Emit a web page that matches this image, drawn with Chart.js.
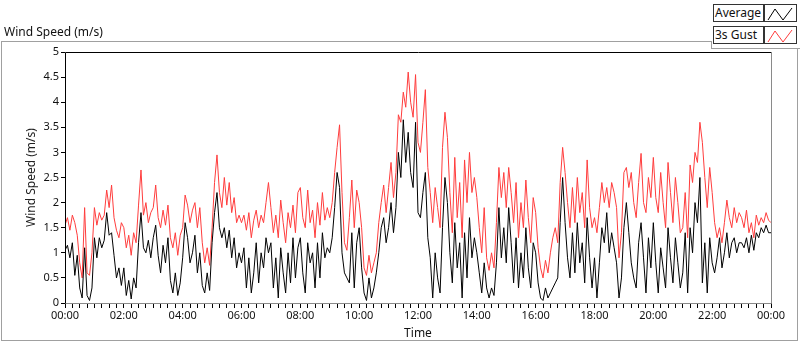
<!DOCTYPE html>
<html>
<head>
<meta charset="utf-8">
<script src="https://cdn.jsdelivr.net/npm/chart.js@4.4.1/dist/chart.umd.min.js"></script>
<style>
  body { margin: 0; background: #fff; font-family: "Noto Sans", sans-serif; }
  #wrap { position: relative; width: 800px; height: 342px; overflow: hidden; }
  #frame { position: absolute; left: 1px; top: 41px; width: 795px; height: 298px; border: 1px solid #a0a0a0; }
  #chart { position: absolute; left: 0; top: 0; }
  #title { position: absolute; left: 4px; top: 23px; font-size: 12px; color: #111; }
  #corner { position: absolute; left: 711px; top: 0; width: 89px; height: 48px; background: #fff;
            border-bottom: 1px solid #a0a0a0; }
  #corner .edge { position: absolute; left: 0; top: 41px; width: 1px; height: 7px; background: #a0a0a0; }
  .name { position: absolute; left: 2px; width: 48px; height: 16px; border: 1px solid #333; background: #fff;
          font-size: 12px; line-height: 16px; padding-left: 1px; box-sizing: content-box; color: #111; }
  .glyph { position: absolute; left: 53px; width: 31px; height: 16px; border: 1px solid #333; background: #fff; }
</style>
</head>
<body>
<div id="wrap">
  <div id="frame"></div>
  <canvas id="chart" width="800" height="342"></canvas>
  <div id="title">Wind Speed (m/s)</div>
  <div id="corner">
    <div class="edge"></div>
    <div class="name" style="top:4px">Average</div>
    <div class="glyph" style="top:4px"><svg width="31" height="16"><polyline points="3,14 10,3 18,14 27,2" fill="none" stroke="#000" stroke-width="1"/></svg></div>
    <div class="name" style="top:26px">3s Gust</div>
    <div class="glyph" style="top:26px"><svg width="31" height="16"><polyline points="3,14 10,3 18,14 27,2" fill="none" stroke="#ff3c3c" stroke-width="1"/></svg></div>
  </div>
</div>
<script>
// 5 minute samples, 00:00 .. 24:00 (one row per hour)
const avg = [
  1.05, 1.15, 0.9, 1.2, 0.55, 0.95, 0.3, 0.1, 1.1, 0.15, 0.05, 0.3,
  1.3, 0.9, 1.3, 1.1, 1.25, 1.8, 1.35, 1.4, 0.95, 0.5, 0.7, 0.35,
  0.7, 0.15, 0.45, 0.08, 0.5, 0.3, 1.2, 1.8, 1.1, 1.0, 1.25, 0.9,
  1.3, 1.55, 0.95, 0.6, 1.15, 0.8, 1.3, 0.45, 0.2, 0.6, 0.15, 0.4,
  0.9, 1.6, 1.3, 0.8, 1.0, 1.35, 0.6, 1.0, 0.35, 0.2, 0.6, 0.25,
  1.2, 1.8, 2.2, 1.5, 1.3, 1.5, 1.1, 1.45, 0.9, 1.3, 0.7, 1.0,
  0.8, 1.1, 0.3, 0.9, 0.2, 0.6, 1.2, 0.4, 1.0, 0.7, 1.3, 1.0,
  1.2, 0.3, 0.9, 0.1, 1.1, 0.6, 0.2, 1.0, 0.4, 1.3, 0.5, 1.1,
  1.3, 0.6, 0.2, 1.2, 0.8, 1.0, 0.3, 1.2, 0.5, 1.4, 0.9, 1.1,
  1.0, 1.3, 1.9, 2.6, 2.3, 1.0, 0.6, 0.5, 0.4, 1.4, 0.3, 1.2,
  1.5, 0.7, 0.2, 0.05, 0.5, 0.1, 0.3, 0.6, 1.0, 1.5, 1.7, 1.2,
  1.5, 2.0, 1.4, 1.9, 3.0, 2.5, 3.65, 2.8, 3.4, 2.6, 2.3, 3.6,
  1.8, 1.7, 2.2, 2.6, 1.3, 0.9, 0.1, 1.0, 0.5, 0.2, 1.5, 2.5,
  2.0, 1.0, 0.4, 1.6, 0.7, 1.2, 0.1, 1.4, 0.5, 1.7, 0.9, 1.3,
  1.0, 0.6, 0.2, 0.8, 0.3, 0.1, 0.3, 0.15, 0.8, 1.9, 0.9, 1.5,
  0.8, 1.9, 1.2, 0.4, 1.3, 0.3, 1.0, 0.5, 1.5, 0.7, 0.3, 1.2,
  1.0, 0.4, 0.1, 0.05, 0.3, 0.1, 0.2, 0.3, 0.4, 0.5, 1.6, 2.5,
  1.6, 0.9, 0.5, 1.4, 0.6, 1.6, 0.8, 1.2, 0.4, 1.7, 0.9, 0.3,
  0.9, 0.1, 0.8, 1.5, 1.2, 1.8, 1.0, 1.4, 1.1, 0.8, 0.1, 0.5,
  1.5, 2.0, 1.4, 0.8, 0.5, 0.3, 1.2, 1.6, 0.9, 0.2, 1.3, 0.7,
  1.6, 0.8, 0.2, 1.1, 0.7, 0.3, 1.5, 0.9, 0.4, 1.3, 0.8, 0.3,
  0.6, 1.4, 0.2, 1.5, 1.0, 2.0, 1.6, 2.5, 0.4, 1.2, 0.2, 1.3,
  0.8, 0.6, 0.9, 1.3, 0.7, 1.0, 1.4, 0.9, 1.2, 1.3, 1.0, 1.2,
  1.2, 1.1, 1.3, 1.0, 1.35, 1.05, 1.4, 1.3, 1.5, 1.4, 1.55, 1.4,
  1.4
];

const gust = [
  1.55, 1.7, 1.45, 1.75, 1.6, 1.35, 0.8, 0.5, 1.9, 0.6, 0.55, 1.0,
  1.9, 1.55, 1.8, 1.65, 1.75, 2.25, 1.9, 2.35, 1.7, 1.45, 1.3, 1.6,
  1.5, 1.1, 1.35, 0.95, 1.4, 1.2, 1.95, 2.65, 1.75, 2.0, 1.6, 1.8,
  1.9, 2.35, 1.7, 1.5, 1.85, 1.55, 1.95, 1.3, 1.1, 1.4, 0.95, 1.35,
  1.5, 2.15, 1.95, 1.6, 1.85, 2.0, 1.5, 1.9, 1.2, 0.8, 1.1, 0.75,
  1.5, 2.4, 2.95, 2.2, 1.9, 2.5, 1.95, 2.4, 1.8, 2.1, 1.6, 1.75,
  1.6, 1.75, 1.45, 1.8, 1.3, 1.65, 1.85, 1.5, 1.75, 1.6, 2.0, 2.4,
  1.9, 1.4, 1.75, 1.3, 2.05, 1.6, 1.2, 1.8, 1.5, 1.95, 1.4, 2.2,
  2.3, 1.7, 1.5, 2.25, 1.6, 1.85, 1.3, 2.0, 1.55, 2.2, 1.65, 1.9,
  1.7, 2.0, 2.6, 3.1, 3.55, 2.2, 1.2, 1.05, 1.7, 2.45, 1.5, 2.25,
  2.0, 1.5, 0.7, 0.55, 0.95, 0.6, 0.8, 1.0, 1.6, 2.0, 2.35, 1.8,
  2.3, 2.8, 2.1, 2.6, 3.75, 3.6, 4.2, 3.9, 4.6, 4.0, 3.7, 4.55,
  3.2, 3.0, 3.6, 4.25, 2.7, 2.2, 1.6, 2.3, 1.9, 1.5, 3.1, 3.8,
  3.3, 2.2, 1.4, 2.9, 1.7, 2.4, 1.3, 2.85, 2.0, 3.0, 2.2, 2.5,
  2.1, 1.5, 1.0, 1.9, 0.9, 0.65, 1.0, 0.7, 1.6, 2.7, 2.1, 2.6,
  1.9, 2.7, 2.2, 1.6, 2.4, 1.3, 2.0, 1.5, 2.45, 1.7, 1.2, 2.1,
  1.8, 1.1, 0.7, 0.5, 0.85, 0.6, 1.0, 1.3, 1.5, 1.2, 2.4, 3.1,
  2.6, 2.0, 1.5, 2.3, 1.6, 2.5, 1.8, 2.2, 1.5, 2.85, 1.9, 1.5,
  1.7, 1.4, 1.9, 2.4, 2.0, 2.3, 1.9, 2.4, 2.2, 1.9, 0.9, 1.4,
  2.6, 2.7, 2.3, 2.6, 2.0, 1.7, 2.4, 2.98, 2.0, 1.8, 2.5, 2.1,
  2.9, 2.1, 1.8, 2.6, 2.0, 1.5, 2.8, 2.2, 1.6, 2.5, 2.0, 1.4,
  1.5, 2.2, 1.3, 2.75, 2.4, 3.0, 2.8, 3.6, 3.2, 2.5, 1.9, 2.7,
  2.2, 1.6, 1.3, 1.5, 1.2, 1.6, 2.05, 1.7, 1.5, 1.9, 1.6, 1.8,
  1.7, 1.5, 1.85, 1.4, 1.6, 1.3, 1.75, 1.55, 1.7, 1.6, 1.8, 1.65,
  1.6
];

// minutes since midnight for each sample
const times = avg.map((v, i) => i * 5);

const fmtTime = m => {
  const h = Math.floor(m / 60) % 24;
  const mm = m % 60;
  return String(h).padStart(2, '0') + ':' + String(mm).padStart(2, '0');
};

// black frame on top/left, grey on right/bottom like the original
const plotFrame = {
  id: 'plotFrame',
  afterDraw(chart) {
    const { ctx, chartArea: a } = chart;
    const l = Math.round(a.left) + 0.5, r = Math.round(a.right) + 0.5;
    const t = Math.round(a.top) + 0.5, b = Math.round(a.bottom) + 0.5;
    ctx.save();
    ctx.lineWidth = 1;
    ctx.strokeStyle = '#000';
    ctx.beginPath();
    ctx.moveTo(l, b); ctx.lineTo(l, t); ctx.lineTo(r, t);
    ctx.stroke();
    ctx.strokeStyle = '#8a8a8a';
    ctx.beginPath();
    ctx.moveTo(r, t); ctx.lineTo(r, b); ctx.lineTo(l, b);
    ctx.stroke();
    ctx.restore();
  }
};

const tickFont = { family: '"Noto Sans", sans-serif', size: 11 };
const titleFont = { family: '"Noto Sans", sans-serif', size: 12 };

new Chart(document.getElementById('chart'), {
  type: 'line',
  data: {
    datasets: [
      {
        label: 'Average',
        data: times.map((t, i) => ({ x: t, y: avg[i] })),
        borderColor: '#000',
        borderWidth: 1,
        pointRadius: 0
      },
      {
        label: '3s Gust',
        data: times.map((t, i) => ({ x: t, y: gust[i] })),
        borderColor: '#ff3c3c',
        borderWidth: 1,
        pointRadius: 0
      }
    ]
  },
  options: {
    responsive: false,
    animation: false,
    devicePixelRatio: 1,
    layout: { padding: { top: 52, right: 29, left: 0, bottom: 0 } },
    plugins: { legend: { display: false }, tooltip: { enabled: false } },
    scales: {
      x: {
        type: 'linear',
        min: 0,
        max: 1440,
        afterFit(s) { s.height = 39; },
        border: { display: false },
        grid: { drawOnChartArea: false, tickLength: 5, color: '#000' },
        ticks: {
          stepSize: 15,
          autoSkip: false,
          maxRotation: 0,
          padding: 1,
          color: '#111',
          font: tickFont,
          callback: v => (v % 120 === 0 ? fmtTime(v) : '')
        },
        title: { display: true, text: 'Time', color: '#111', font: titleFont, padding: { top: 0, bottom: 1 } }
      },
      y: {
        min: 0,
        max: 5,
        afterFit(s) { s.width = 65; },
        border: { display: false },
        grid: { drawOnChartArea: false, tickLength: 4, color: '#000' },
        ticks: {
          stepSize: 0.5,
          padding: 2,
          color: '#111',
          font: tickFont,
          callback: v => String(Math.round(v * 10) / 10)
        },
        title: { display: true, text: 'Wind Speed (m/s)', color: '#222', font: titleFont, padding: { top: 24, bottom: 0 } }
      }
    }
  },
  plugins: [plotFrame]
});
</script>
</body>
</html>
